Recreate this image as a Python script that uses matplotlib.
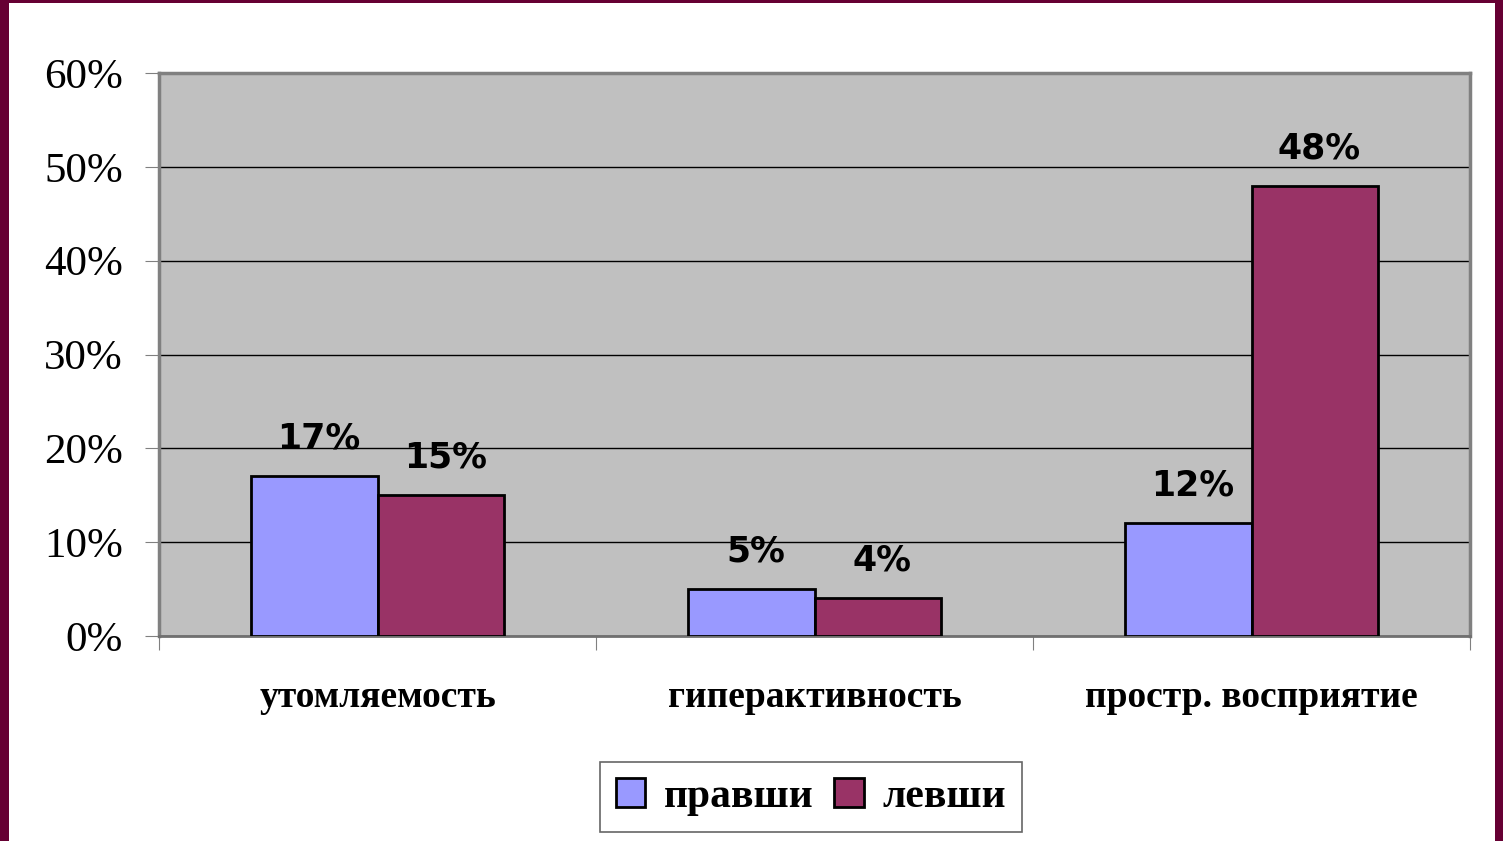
import matplotlib.pyplot as plt
import numpy as np
from matplotlib.patches import Rectangle
from matplotlib.transforms import ScaledTranslation

categories = ['утомляемость', 'гиперактивность', 'простр. восприятие']
right_handed = [17, 5, 12]
left_handed = [15, 4, 48]
series_names = ['правши', 'левши']
y_ticks = [0, 10, 20, 30, 40, 50, 60]

W, H = 1503, 841


def plot():
    fig = plt.figure(figsize=(W / 100, H / 100), dpi=100)
    fig.patch.set_facecolor('#660033')
    # white slide area inside maroon frame
    fig.patches.append(Rectangle((9 / W, 0), (1495 - 9) / W, (H - 3) / H,
                                 transform=fig.transFigure, facecolor='white',
                                 edgecolor='none', zorder=-10))

    ax = fig.add_axes([159 / W, 1 - 636 / H, (1470 - 159) / W, (636 - 73) / H])
    ax.set_facecolor('#C0C0C0')

    x = np.arange(len(categories))
    w = 0.29
    b1 = ax.bar(x - w / 2, right_handed, w, color='#9999FF', edgecolor='black',
                linewidth=2, zorder=3, label=series_names[0])
    b2 = ax.bar(x + w / 2, left_handed, w, color='#993366', edgecolor='black',
                linewidth=2, zorder=3, label=series_names[1])

    for bars, vals in ((b1, right_handed), (b2, left_handed)):
        for bar, v in zip(bars, vals):
            ax.text(bar.get_x() + bar.get_width() / 2 + 0.01, v + 4.0, f'{v}%',
                    ha='center', va='center', fontsize=25, fontweight='bold',
                    family='DejaVu Sans', zorder=4)

    ax.set_xlim(-0.5, 2.5)
    ax.set_ylim(0, 60)
    ax.set_yticks(y_ticks)
    ax.set_yticklabels([f'{t}%' for t in y_ticks], family='Liberation Serif',
                       fontsize=31)
    shift = ScaledTranslation(0, -4 / 72, fig.dpi_scale_trans)
    for lab in ax.get_yticklabels():
        lab.set_transform(lab.get_transform() + shift)
    ax.yaxis.grid(True, color='black', linewidth=1, zorder=1)
    ax.set_axisbelow(True)

    ax.set_xticks([-0.5, 0.5, 1.5, 2.5])
    ax.set_xticklabels([])
    ax.set_xticks(x, minor=True)
    ax.set_xticklabels(categories, minor=True, family='Liberation Serif',
                       fontsize=27, fontweight='bold')
    ax.tick_params(axis='x', which='minor', length=0, pad=32)
    ax.tick_params(axis='x', which='major', length=10, color='#808080',
                   direction='out')
    ax.tick_params(axis='y', length=10, color='#808080', pad=16)

    for side in ('left', 'top', 'right'):
        ax.spines[side].set_color('#808080')
        ax.spines[side].set_linewidth(2.5)
    ax.spines['bottom'].set_color('#707070')
    ax.spines['bottom'].set_linewidth(2)

    leg = fig.legend(handles=[b1, b2], loc='center', ncol=2,
                     bbox_to_anchor=(811 / W, 1 - 797 / H),
                     prop={'family': 'Liberation Serif', 'weight': 'bold',
                           'size': 30},
                     frameon=True, fancybox=False, edgecolor='#404040',
                     handlelength=0.7, handleheight=0.7, handletextpad=0.45,
                     columnspacing=0.5, borderpad=0.38)
    leg.get_frame().set_linewidth(1.2)

    fig.savefig('out.png', dpi=100, facecolor=fig.get_facecolor())


plot()
